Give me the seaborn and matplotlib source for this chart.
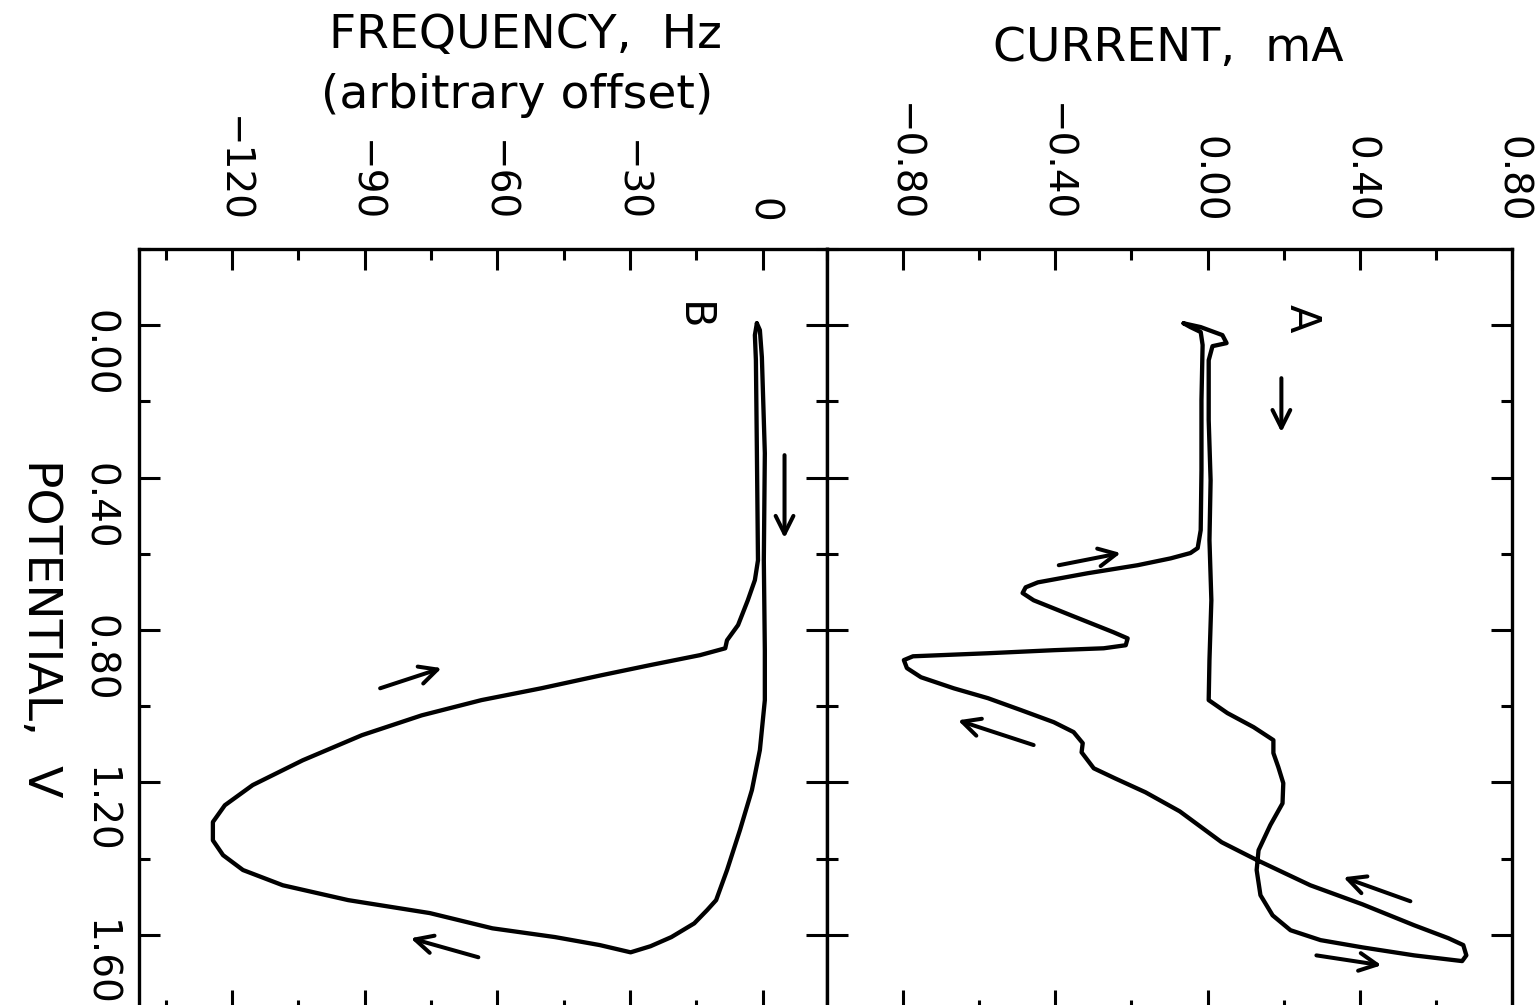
import numpy as np
import pandas as pd
import matplotlib
matplotlib.use("Agg")
import matplotlib.pyplot as plt
from matplotlib.ticker import MultipleLocator
import seaborn as sns

# ---------------- data ----------------
# Panel A: current (mA) vs potential (V), traced in scan order
a_current = [-0.063, -0.018, 0.039, 0.050, 0.013, 0.003, 0.003, 0.008, 0.005, 0.010,
             0.005, 0.003, 0.052, 0.121, 0.173, 0.173, 0.186, 0.199, 0.197, 0.165,
             0.134, 0.129, 0.139, 0.171, 0.218, 0.297, 0.407, 0.543, 0.669, 0.680,
             0.672,
             0.633, 0.543, 0.407, 0.270, 0.126, 0.037, -0.073, -0.163, -0.244, -0.299,
             -0.331, -0.328, -0.352, -0.404, -0.491, -0.577, -0.667, -0.753, -0.790, -0.798,
             -0.774, -0.577, -0.404, -0.273, -0.215, -0.210, -0.247, -0.360, -0.457, -0.486,
             -0.478, -0.446, -0.315, -0.184, -0.097, -0.045, -0.026, -0.018, -0.016, -0.016,
             -0.013, -0.018, -0.045, -0.063]
a_potential = [-0.005, 0.005, 0.026, 0.047, 0.055, 0.092, 0.249, 0.407, 0.564, 0.722,
               0.879, 0.984, 1.018, 1.055, 1.089, 1.123, 1.160, 1.202, 1.255, 1.312,
               1.378, 1.430, 1.496, 1.549, 1.588, 1.614, 1.633, 1.654, 1.669, 1.654,
               1.627,
               1.609, 1.575, 1.520, 1.470, 1.402, 1.357, 1.276, 1.226, 1.189, 1.163,
               1.121, 1.097, 1.068, 1.042, 1.010, 0.979, 0.953, 0.924, 0.900, 0.879,
               0.869, 0.861, 0.853, 0.848, 0.840, 0.822, 0.806, 0.761, 0.722, 0.703,
               0.688, 0.675, 0.651, 0.630, 0.612, 0.598, 0.585, 0.538, 0.381, 0.197,
               0.052, 0.018, 0.005, -0.005]

# Panel B: frequency (Hz, arbitrary offset) vs potential (V)
b_frequency = [-1.35, -0.67, -0.22, 0.45, 0.22, 0.45, 0.45, -0.67, -2.47, -5.17,
               -8.09, -10.56, -12.58, -15.51, -20.67, -25.39, -29.89,
               -36.85, -46.97, -61.12, -75.28, -93.71, -108.5, -117.5, -122.0, -124.3,
               -124.3, -121.6, -115.3, -104.0, -90.6, -77.1, -63.6, -50.1, -36.6, -25.4,
               -14.2, -8.5, -8.1, -5.6, -3.4, -1.8, -1.1, -1.35, -1.57, -1.8, -1.35]
b_potential = [-0.005, 0.013, 0.084, 0.336, 0.617, 0.853, 0.984, 1.115, 1.220, 1.325,
               1.430, 1.509, 1.535, 1.570, 1.606, 1.630, 1.646,
               1.627, 1.606, 1.583, 1.543, 1.509, 1.470, 1.430, 1.391, 1.352,
               1.304, 1.260, 1.207, 1.142, 1.076, 1.024, 0.984, 0.953, 0.919, 0.892,
               0.866, 0.848, 0.827, 0.787, 0.722, 0.669, 0.617, 0.328, 0.092, 0.026, -0.005]

# scan-direction arrows: (x_tail, y_tail, x_head, y_head)
a_arrows = [(0.194, 0.139, 0.194, 0.281),
            (-0.391, 0.630, -0.228, 0.598),
            (-0.457, 1.102, -0.656, 1.037),
            (0.533, 1.512, 0.357, 1.449),
            (0.286, 1.654, 0.457, 1.680)]
b_arrows = [(4.9, 0.341, 4.9, 0.559),
            (-86.5, 0.953, -72.6, 0.900),
            (-64.3, 1.659, -79.6, 1.609)]

current_ticks = [-0.8, -0.4, 0.0, 0.4, 0.8]
current_tick_labels = ["\u22120.80", "\u22120.40", "0.00", "0.40", "0.80"]
freq_ticks = [-120, -90, -60, -30, 0]
freq_tick_labels = ["\u2212120", "\u221290", "\u221260", "\u221230", "0"]
potential_ticks = [0.0, 0.4, 0.8, 1.2, 1.6]
potential_tick_labels = ["0.00", "0.40", "0.80", "1.20", "1.60"]

df_a = pd.DataFrame({"current": a_current, "potential": a_potential})
df_b = pd.DataFrame({"frequency": b_frequency, "potential": b_potential})

# ---------------- figure ----------------
sns.set_theme(style="ticks")
plt.rcParams["font.family"] = ["DejaVu Sans"]
plt.rcParams["text.color"] = "black"
plt.rcParams["xtick.color"] = "black"
plt.rcParams["ytick.color"] = "black"
plt.rcParams["xtick.labelcolor"] = "black"
plt.rcParams["ytick.labelcolor"] = "black"

W, H = 1539, 1005
fig = plt.figure(figsize=(W / 100, H / 100), dpi=100)
fig.patch.set_facecolor("white")

def px_rect(x0, x1, y0, y1):
    return [x0 / W, 1 - y1 / H, (x1 - x0) / W, (y1 - y0) / H]

ax_b = fig.add_axes(px_rect(139, 827, 249, 1011))
ax_a = fig.add_axes(px_rect(827, 1512, 249, 1011))

LW = 3.1
line_kw = dict(solid_joinstyle="round", solid_capstyle="round")
sns.lineplot(data=df_b, x="frequency", y="potential", sort=False, estimator=None,
             color="black", lw=LW, ax=ax_b, **line_kw)
sns.lineplot(data=df_a, x="current", y="potential", sort=False, estimator=None,
             color="black", lw=LW, ax=ax_a, **line_kw)

for ax in (ax_a, ax_b):
    ax.set_ylim(1.8, -0.2)
    ax.set_yticks(potential_ticks)
    ax.yaxis.set_minor_locator(MultipleLocator(0.2))
    ax.set_xlabel("")
    ax.set_ylabel("")
    ax.set_facecolor("white")
    for s in ax.spines.values():
        s.set_visible(True)
        s.set_linewidth(2.4)
        s.set_color("black")
    ax.tick_params(which="both", direction="in", top=True, bottom=True, left=True,
                   right=True, labeltop=True, labelbottom=False, labelright=False,
                   width=2.2, color="black", labelcolor="black")
    ax.tick_params(which="major", length=15)
    ax.tick_params(which="minor", length=8)
    ax.tick_params(axis="x", labelrotation=-90, labelsize=28, pad=19)
    ax.tick_params(axis="y", labelrotation=-90, labelsize=28, pad=15)

ax_a.set_xlim(-1.0, 0.8)
ax_a.set_xticks(current_ticks, current_tick_labels)
ax_a.xaxis.set_minor_locator(MultipleLocator(0.2))
ax_a.tick_params(axis="y", labelleft=False)

ax_b.set_xlim(-141, 14.5)
ax_b.set_xticks(freq_ticks, freq_tick_labels)
ax_b.xaxis.set_minor_locator(MultipleLocator(15))
ax_b.set_yticks(potential_ticks, potential_tick_labels)
ax_b.tick_params(axis="y", labelleft=True)

arrow_kw = dict(arrowstyle="->", lw=2.9, color="black", mutation_scale=32,
                shrinkA=0, shrinkB=0)
for x0, y0, x1, y1 in a_arrows:
    ax_a.annotate("", xy=(x1, y1), xytext=(x0, y0), arrowprops=arrow_kw)
for x0, y0, x1, y1 in b_arrows:
    ax_b.annotate("", xy=(x1, y1), xytext=(x0, y0), arrowprops=arrow_kw)

ax_a.text(0.248, -0.018, "A", rotation=-90, fontsize=30, ha="center", va="center",
          color="black")
ax_b.text(-15.8, -0.024, "B", rotation=-90, fontsize=30, ha="center", va="center",
          color="black")

fig.text(1168 / W, 1 - 48 / H, "CURRENT,  mA", fontsize=34, ha="center", va="center",
         color="black")
fig.text(525 / W, 1 - 35 / H, "FREQUENCY,  Hz", fontsize=34, ha="center", va="center",
         color="black")
fig.text(517 / W, 1 - 95 / H, "(arbitrary offset)", fontsize=34, ha="center",
         va="center", color="black")
fig.text(40 / W, 1 - 628 / H, "POTENTIAL,  V", fontsize=34, rotation=-90,
         ha="center", va="center", color="black")

fig.savefig("out.png", dpi=100, facecolor="white")
